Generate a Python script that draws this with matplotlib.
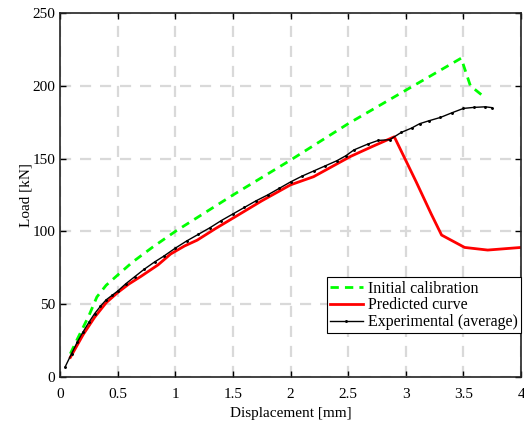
import matplotlib
matplotlib.use("Agg")
import matplotlib.pyplot as plt

plt.rcParams['font.family'] = ['Liberation Serif', 'DejaVu Serif']
plt.rcParams['mathtext.fontset'] = 'stix'

# initial calibration
x_init = [0.09, 0.15, 0.25, 0.32, 0.4, 0.5, 0.63, 0.8, 1.0, 1.5, 2.0, 2.5, 3.0, 3.48, 3.56, 3.67]
y_init = [16, 26, 42, 55, 63, 70, 79, 89, 100, 125, 149, 174, 197, 219, 200, 193]

# predicted curve
x_pred = [0.09, 0.2, 0.3, 0.4, 0.5, 0.6, 0.7, 0.85, 0.96, 1.08, 1.19, 1.35, 1.54, 1.75, 2.0, 2.2,
          2.52, 2.7, 2.9, 3.09, 3.22, 3.31, 3.51, 3.71, 4.0]
y_pred = [13.5, 29, 41, 51, 58, 64, 69, 77, 84.5, 90, 94, 102, 111, 121, 132, 137.6,
          151.5, 158, 165, 134, 112, 97.5, 89, 87.2, 89]

# experimental (average)
x_exp = [0.045, 0.1, 0.15, 0.2, 0.25, 0.3, 0.35, 0.4, 0.45, 0.5, 0.57, 0.65, 0.73, 0.82, 0.9,
         1.0, 1.1, 1.2, 1.3, 1.4, 1.5, 1.6, 1.7, 1.8, 1.9, 2.0, 2.1, 2.2, 2.3, 2.4, 2.48,
         2.55, 2.67, 2.76, 2.86, 2.96, 3.05, 3.12, 3.2, 3.3, 3.4, 3.5, 3.59, 3.69, 3.75]
y_exp = [7, 16, 24, 31, 37.5, 43.5, 48.5, 53, 56, 59, 64, 69, 74, 79, 83,
         88.5, 93.5, 98, 102.5, 107.5, 112, 116.5, 121, 125, 129.5, 134, 138, 141.5, 145, 148.5, 152,
         156, 160, 162.5, 163, 168, 171, 174, 176, 178.3, 181.5, 184.5, 185.2, 185.6, 185]

fig = plt.figure(figsize=(5.24, 4.21), dpi=100)
ax = fig.add_axes([0.1145, 0.1045, 0.88, 0.8645])

ax.plot(x_init, y_init, '--', color='#00ff00', lw=2, dashes=(3, 2.2), label='Initial calibration')
ax.plot(x_pred, y_pred, '-', color='#ff0000', lw=2, label='Predicted curve')
ax.plot(x_exp, y_exp, '-', color='black', lw=1, marker='.', ms=2.2, label='Experimental (average)')

ax.set_xlim(0, 4)
ax.set_ylim(0, 250)
ax.set_xticks([0, 0.5, 1, 1.5, 2, 2.5, 3, 3.5, 4])
ax.set_xticklabels(['0', '0.5', '1', '1.5', '2', '2.5', '3', '3.5', '4'])
ax.set_yticks([0, 50, 100, 150, 200, 250])
ax.tick_params(direction='in', top=True, right=True, labelsize=11, length=4, width=1)
ax.tick_params(axis='x', pad=8)
ax.grid(True, color='#d9d9d9', linestyle='--', lw=1.6, dashes=(5, 4))
ax.set_axisbelow(True)
for s in ax.spines.values():
    s.set_linewidth(1.2)
    s.set_color('#222222')

ax.set_xlabel('Displacement [mm]', fontsize=11, labelpad=4)
ax.set_ylabel('Load [kN]', fontsize=11, labelpad=0)

leg = ax.legend(loc='lower right', bbox_to_anchor=(1.0, 0.12), fontsize=11.5, frameon=True,
                fancybox=False, framealpha=1, edgecolor='black', borderpad=0.2,
                labelspacing=0.05, handlelength=2.1, handletextpad=0.3, borderaxespad=0)
leg.get_frame().set_linewidth(0.8)

fig.savefig('out.png', dpi=100)
